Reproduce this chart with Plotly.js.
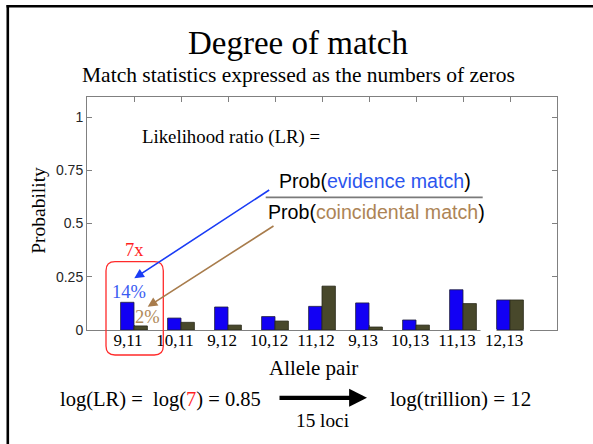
<!DOCTYPE html>
<html>
<head>
<meta charset="utf-8">
<script src="https://cdn.plot.ly/plotly-3.0.1.min.js"></script>
<style>html,body{margin:0;padding:0;background:#fff;}#chart{width:593px;height:444px;}</style>
</head>
<body>
<div id="chart"></div>
<script>
// ---- data ----
const categories = ['9,11','10,11','9,12','10,12','11,12','9,13','10,13','11,13','12,13'];
const evidenceMatch = [0.13, 0.056, 0.108, 0.063, 0.111, 0.127, 0.047, 0.189, 0.141];
const coincidentalMatch = [0.019, 0.036, 0.023, 0.042, 0.206, 0.014, 0.023, 0.124, 0.141];
const yTickVals = [0, 0.25, 0.5, 0.75, 1];
const yTickText = ['0', '0.25', '0.5', '0.75', '1'];

const positions = categories.map((c, i) => i + 1);

// ---- layout geometry helpers (pixel -> paper) ----
const W = 593, H = 444, ML = 87, MR = 36, MT = 97, MB = 114;
const PW = W - ML - MR, PH = H - MT - MB;
const px = x => (x - ML) / PW;
const py = y => (H - MB - y) / PH;

const serif = '"Liberation Serif", "Times New Roman", serif';
const sans = 'Arial, "Liberation Sans", Helvetica, sans-serif';
const blueTxt = '#2b55ee';
const brownTxt = '#ad8455';

const traces = [
  {type: 'bar', x: positions, y: evidenceMatch, name: 'evidence',
   marker: {color: '#1200f4', line: {color: '#20203a', width: 0.8}}},
  {type: 'bar', x: positions, y: coincidentalMatch, name: 'coincidental',
   marker: {color: '#48482b', line: {color: '#2a2a1a', width: 0.8}}}
];

function txt(x, y, text, size, opts) {
  return Object.assign({xref: 'paper', yref: 'paper', x: px(x), y: py(y), text: text,
    showarrow: false, xanchor: 'center', yanchor: 'middle',
    font: {family: serif, size: size, color: '#000'}}, opts || {});
}
function arrow(sx, sy, tx, ty, color, width, size) {
  return {xref: 'paper', yref: 'paper', x: px(tx), y: py(ty), ax: sx - tx, ay: sy - ty,
    text: '', showarrow: true, arrowhead: 2, arrowsize: size, arrowwidth: width, arrowcolor: color};
}

const annotations = [
  txt(298, 43, 'Degree of match', 33),
  txt(298, 75, 'Match statistics expressed as the numbers of zeros', 21.5),
  txt(140, 137, 'Likelihood ratio (LR) =', 18.8, {xanchor: 'left'}),
  txt(276.7, 181, 'Prob(<span style="color:' + blueTxt + '">evidence match</span>)', 19.6,
      {xanchor: 'left', font: {family: sans, size: 19.6, color: '#000'}}),
  txt(265.7, 212, 'Prob(<span style="color:' + brownTxt + '">coincidental match</span>)', 19.6,
      {xanchor: 'left', font: {family: sans, size: 19.6, color: '#000'}}),
  txt(134.3, 250, '7x', 18.5, {font: {family: serif, size: 18.5, color: '#ff1f1f'}}),
  txt(129, 291.5, '14%', 18.5, {font: {family: serif, size: 18.5, color: '#3a5cf2'}}),
  txt(147, 316.5, '2%', 18.5, {font: {family: serif, size: 18.5, color: '#b08a5a'}}),
  txt(38.3, 210.5, 'Probability', 19.5, {textangle: -90}),
  txt(313.5, 367.6, 'Allele pair', 21),
  txt(58, 399, 'log(LR) =\u00a0\u00a0log(<span style="color:#ff1f1f">7</span>) = 0.85', 20.5, {xanchor: 'left'}),
  txt(387.7, 399, 'log(trillion) = 12', 21, {xanchor: 'left'}),
  txt(322, 420.5, '15 loci', 19.3),
  arrow(270.7, 189, 134.3, 278.3, '#1a3cf5', 1.6, 1.2),
  arrow(275, 225, 147.7, 306.7, '#a87c4c', 1.6, 1.2),
  arrow(278, 397.8, 367, 397.8, '#000', 4.2, 0.85)
];

// rounded red rectangle
const rl = 106, rr = 163.3, rt = 261.7, rb = 355, rad = 9;
function P(x, y) { return px(x) + ',' + py(y); }
const roundPath = 'M' + P(rl + rad, rt) + ' L' + P(rr - rad, rt) + ' Q' + P(rr, rt) + ' ' + P(rr, rt + rad) +
  ' L' + P(rr, rb - rad) + ' Q' + P(rr, rb) + ' ' + P(rr - rad, rb) +
  ' L' + P(rl + rad, rb) + ' Q' + P(rl, rb) + ' ' + P(rl, rb - rad) +
  ' L' + P(rl, rt + rad) + ' Q' + P(rl, rt) + ' ' + P(rl + rad, rt) + ' Z';

const shapes = [
  // slide frame (left & top)
  {type: 'line', xref: 'paper', yref: 'paper', x0: px(7.8), x1: px(7.8), y0: py(5), y1: py(446), line: {color: '#000', width: 2.6}},
  {type: 'line', xref: 'paper', yref: 'paper', x0: px(6.5), x1: px(595), y0: py(6.2), y1: py(6.2), line: {color: '#000', width: 2.6}},
  // fraction bar
  {type: 'line', xref: 'paper', yref: 'paper', x0: px(265.7), x1: px(482.7), y0: py(197.3), y1: py(197.3), line: {color: '#7a7a7a', width: 1.8}},
  // white label boxes interrupting the baseline near the last group
  {type: 'line', xref: 'paper', yref: 'paper', x0: px(480.5), x1: px(496.5), y0: py(330), y1: py(330), line: {color: '#fff', width: 2}},
  {type: 'line', xref: 'paper', yref: 'paper', x0: px(523.8), x1: px(530), y0: py(330), y1: py(330), line: {color: '#fff', width: 2}},
  // red rounded box
  {type: 'path', xref: 'paper', yref: 'paper', path: roundPath, line: {color: '#ff2a2a', width: 1.3}}
];

const layout = {
  width: W, height: H,
  margin: {l: ML, r: MR, t: MT, b: MB, pad: 0},
  paper_bgcolor: '#fff', plot_bgcolor: '#fff',
  showlegend: false,
  barmode: 'group', bargap: 0.43, bargroupgap: 0,
  xaxis: {range: [0, 10], tickmode: 'array', tickvals: positions, ticktext: categories,
    ticks: 'inside', ticklen: 5, tickcolor: '#808080', showline: true, linecolor: '#808080', linewidth: 1,
    mirror: 'ticks', showgrid: false, zeroline: false, layer: 'below traces',
    tickfont: {family: serif, size: 17, color: '#000'}, ticklabelshift: -6, ticklabelstandoff: -5},
  yaxis: {range: [0, 1.094], tickmode: 'array', tickvals: yTickVals, ticktext: yTickText,
    ticks: 'inside', ticklen: 5, tickcolor: '#808080', showline: true, linecolor: '#808080', linewidth: 1,
    mirror: 'ticks', showgrid: false, zeroline: false, layer: 'below traces',
    tickfont: {family: sans, size: 14, color: '#262626'}},
  annotations: annotations,
  shapes: shapes
};

Plotly.newPlot('chart', traces, layout, {staticPlot: true, displayModeBar: false});
</script>
</body>
</html>
